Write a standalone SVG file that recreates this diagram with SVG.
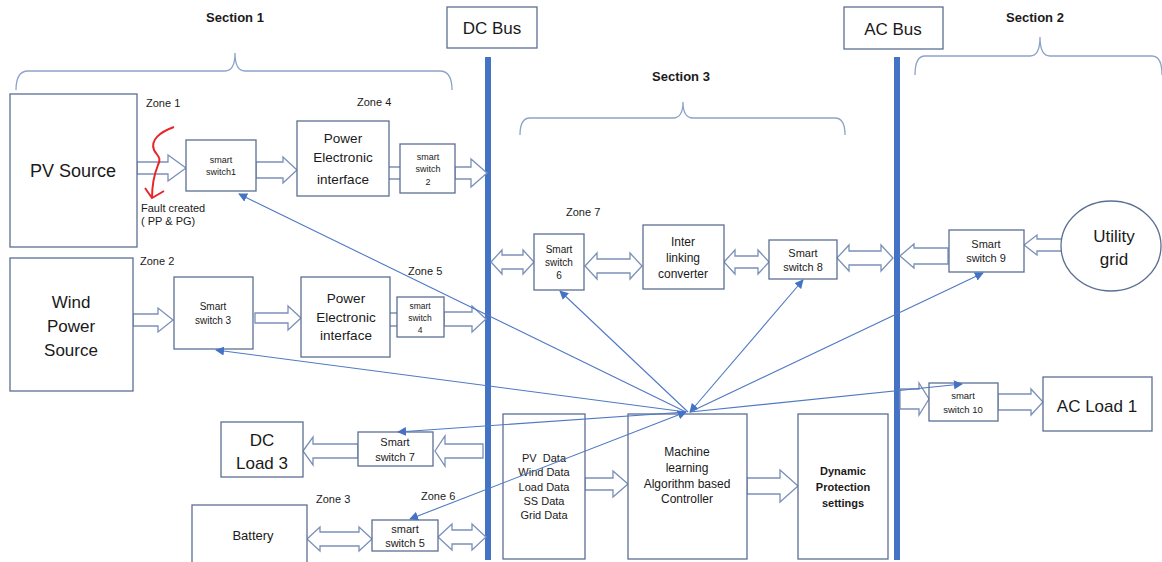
<svg xmlns="http://www.w3.org/2000/svg" width="1162" height="562" viewBox="0 0 1162 562">
<defs>
<style>
.box{fill:#fff;stroke:#5b6f92;stroke-width:1.3}
.blk{fill:#fff;stroke:#7b90b8;stroke-width:1.3}
.bus{fill:#4472c4}
.brace{fill:none;stroke:#8ea2c9;stroke-width:1.3}
.sig{fill:none;stroke:#4f79c4;stroke-width:1.1}
.t{font-family:"Liberation Sans",Arial,sans-serif;fill:#1a1a1a;text-anchor:middle}
.z{font-family:"Liberation Sans",Arial,sans-serif;fill:#1a1a1a;font-size:11px}
.sec{font-family:"Liberation Sans",Arial,sans-serif;font-weight:bold;font-size:13px;fill:#1a1a1a;text-anchor:middle}
</style>
<marker id="ah" viewBox="0 0 10 10" refX="9" refY="5" markerWidth="9" markerHeight="9" markerUnits="userSpaceOnUse" orient="auto-start-reverse">
<path d="M0,0 L10,5 L0,10 z" fill="#4472c4"/>
</marker>
</defs>
<rect width="1162" height="562" fill="#fff"/>

<!-- section labels and braces -->
<g id="sections">
<text class="sec" x="235" y="22">Section 1</text>
<text class="sec" x="681" y="81">Section 3</text>
<text class="sec" x="1035" y="22">Section 2</text>
<path class="brace" d="M16,90 Q16,71 28,71 L225,71 Q235,71 235,53 Q235,71 245,71 L440,71 Q452,71 452,90"/>
<path class="brace" d="M520,135 Q520,118 530,118 L673,118 Q683,118 683,102 Q683,118 693,118 L835,118 Q845,118 845,135"/>
<path class="brace" d="M915,75 Q915,56 925,56 L1030,56 Q1040,56 1040,37 Q1040,56 1050,56 L1152,56 Q1162,56 1162,75"/>
</g>

<!-- buses -->
<g id="dcbus">
<rect class="box" x="447" y="7" width="90" height="41"/>
<text class="t" x="492" y="34" font-size="17">DC Bus</text>
<rect class="bus" x="485" y="57" width="6" height="503"/>
</g>
<g id="acbus">
<rect class="box" x="844" y="7" width="99" height="42"/>
<text class="t" x="893" y="35" font-size="17">AC Bus</text>
<rect class="bus" x="894" y="57" width="6" height="503"/>
</g>

<!-- zone labels -->
<g id="zones">
<text class="z" x="146" y="107">Zone 1</text>
<text class="z" x="357" y="106">Zone 4</text>
<text class="z" x="140" y="265">Zone 2</text>
<text class="z" x="408" y="275">Zone 5</text>
<text class="z" x="566" y="216">Zone 7</text>
<text class="z" x="316" y="503">Zone 3</text>
<text class="z" x="421" y="500">Zone 6</text>
</g>

<!-- block arrows -->
<g id="power-flows">
<polygon class="blk" points="137,162 168,162 168,155 186,168 168,181 168,174 137,174"/>
<polygon class="blk" points="256,162 283,162 283,157 297,170 283,183 283,178 256,178"/>
<path class="blk" d="M389,167 H400 M389,179 H400"/>
<polygon class="blk" points="455,167 471,167 471,159 487,173 471,187 471,179 455,179"/>
<polygon class="blk" points="133,314 158,314 158,308 173,320 158,332 158,326 133,326"/>
<polygon class="blk" points="255,313 288,313 288,306 301,318 288,330 288,323 255,323"/>
<path class="blk" d="M390,313 H397 M390,326 H397"/>
<polygon class="blk" points="444,312 472,312 472,306 486,319 472,332 472,326 444,326"/>
<polygon class="blk" points="491,262 502,250 502,255 523,255 523,250 534,262 523,274 523,269 502,269 502,274"/>
<polygon class="blk" points="585,266 597,253 597,259 630,259 630,253 642,266 630,279 630,273 597,273 597,279"/>
<polygon class="blk" points="724,262 735,250 735,256 758,256 758,250 769,262 758,274 758,268 735,268 735,274"/>
<polygon class="blk" points="837,258 849,245 849,251 881,251 881,245 893,258 881,271 881,265 849,265 849,271"/>
<polygon class="blk" points="900,256 914,244 914,248 948,248 948,264 914,264 914,268"/>
<polygon class="blk" points="1024,245 1037,235 1037,239 1062,239 1062,251 1037,251 1037,255"/>
<polygon class="blk" points="900,389 919,389 919,383 929,399 919,415 919,409 900,409"/>
<polygon class="blk" points="998,394 1031,394 1031,389 1043,402 1031,415 1031,410 998,410"/>
<polygon class="blk" points="303,451 313,437 313,444 358,444 358,458 313,458 313,465"/>
<polygon class="blk" points="435,451 445,436 445,444 483,444 483,458 445,458 445,466"/>
<polygon class="blk" points="307,539 320,527 320,532 359,532 359,527 372,539 359,551 359,546 320,546 320,551"/>
<polygon class="blk" points="438,537 452,524 452,530 472,530 472,524 486,537 472,550 472,544 452,544 452,550"/>
<polygon class="blk" points="585,478 613,478 613,471 628,484 613,497 613,490 585,490"/>
<polygon class="blk" points="747,478 780,478 780,470 798,486 780,502 780,494 747,494"/>
</g>

<!-- nodes -->
<g id="pv-source">
<rect class="box" x="10" y="94" width="127" height="153"/>
<text class="t" x="73" y="177" font-size="18">PV Source</text>
</g>
<g id="smart-switch-1">
<rect class="box" x="186" y="140" width="70" height="51"/>
<text class="t" x="221" y="163" font-size="9">smart</text>
<text class="t" x="221" y="175" font-size="9">switch1</text>
</g>
<g id="pe-interface-1">
<rect class="box" x="297" y="121" width="92" height="75"/>
<text class="t" x="343" y="143" font-size="13.5">Power</text>
<text class="t" x="343" y="162" font-size="13.5">Electronic</text>
<text class="t" x="343" y="184" font-size="13.5">interface</text>
</g>
<g id="smart-switch-2">
<rect class="box" x="400" y="144" width="55" height="49"/>
<text class="t" x="428" y="160" font-size="9">smart</text>
<text class="t" x="428" y="172" font-size="9">switch</text>
<text class="t" x="428" y="185" font-size="9">2</text>
</g>
<g id="fault">
<path d="M174,127 C160,132 150,140 154,150 C157,156 162,157 158,165 C154,175 152,186 152,198" fill="none" stroke="#e8262a" stroke-width="2"/>
<path d="M145,188 L152,198 L164,191" fill="none" stroke="#e8262a" stroke-width="2"/>
<text class="z" x="141" y="212" font-size="10">Fault created</text>
<text class="z" x="141" y="225" font-size="10">( PP &amp; PG)</text>
</g>
<g id="wind-source">
<rect class="box" x="10" y="258" width="123" height="133"/>
<text class="t" x="71" y="308" font-size="17">Wind</text>
<text class="t" x="71" y="332" font-size="17">Power</text>
<text class="t" x="71" y="356" font-size="17">Source</text>
</g>
<g id="smart-switch-3">
<rect class="box" x="174" y="277" width="79" height="72"/>
<text class="t" x="213" y="310" font-size="10">Smart</text>
<text class="t" x="213" y="324" font-size="10">switch 3</text>
</g>
<g id="pe-interface-2">
<rect class="box" x="301" y="277" width="89" height="80"/>
<text class="t" x="346" y="303" font-size="13.5">Power</text>
<text class="t" x="346" y="322" font-size="13.5">Electronic</text>
<text class="t" x="346" y="340" font-size="13.5">interface</text>
</g>
<g id="smart-switch-4">
<rect class="box" x="397" y="297" width="47" height="40"/>
<text class="t" x="420" y="309" font-size="8.5">smart</text>
<text class="t" x="420" y="321" font-size="8.5">switch</text>
<text class="t" x="420" y="333" font-size="8.5">4</text>
</g>
<g id="smart-switch-6">
<rect class="box" x="534" y="234" width="50" height="56"/>
<text class="t" x="559" y="253" font-size="10">Smart</text>
<text class="t" x="559" y="266" font-size="10">switch</text>
<text class="t" x="559" y="279" font-size="10">6</text>
</g>
<g id="interlinking-converter">
<rect class="box" x="643" y="225" width="81" height="64"/>
<text class="t" x="683" y="246" font-size="12">Inter</text>
<text class="t" x="683" y="262" font-size="12">linking</text>
<text class="t" x="683" y="278" font-size="12">converter</text>
</g>
<g id="smart-switch-8">
<rect class="box" x="769" y="240" width="68" height="39"/>
<text class="t" x="803" y="257" font-size="11">Smart</text>
<text class="t" x="803" y="271" font-size="11">switch 8</text>
</g>
<g id="smart-switch-9">
<rect class="box" x="949" y="230" width="75" height="42"/>
<text class="t" x="986" y="248" font-size="11">Smart</text>
<text class="t" x="986" y="262" font-size="11">switch 9</text>
</g>
<g id="utility-grid">
<ellipse class="box" cx="1111" cy="246" rx="50" ry="45"/>
<text class="t" x="1114" y="242" font-size="17">Utility</text>
<text class="t" x="1114" y="265" font-size="17">grid</text>
</g>
<g id="smart-switch-10">
<rect class="box" x="929" y="383" width="69" height="38"/>
<text class="t" x="963" y="399" font-size="9.5">smart</text>
<text class="t" x="963" y="413" font-size="9.5">switch 10</text>
</g>
<g id="ac-load-1">
<rect class="box" x="1043" y="377" width="109" height="54"/>
<text class="t" x="1097" y="412" font-size="17">AC Load 1</text>
</g>
<g id="dc-load-3">
<rect class="box" x="221" y="422" width="82" height="55"/>
<text class="t" x="262" y="446" font-size="17">DC</text>
<text class="t" x="262" y="469" font-size="17">Load 3</text>
</g>
<g id="smart-switch-7">
<rect class="box" x="358" y="432" width="75" height="34"/>
<text class="t" x="395" y="446" font-size="11">Smart</text>
<text class="t" x="395" y="461" font-size="11">switch 7</text>
</g>
<g id="battery">
<rect class="box" x="192" y="505" width="115" height="60"/>
<text class="t" x="253" y="540" font-size="13">Battery</text>
</g>
<g id="smart-switch-5">
<rect class="box" x="372" y="520" width="66" height="31"/>
<text class="t" x="405" y="533" font-size="11">smart</text>
<text class="t" x="405" y="547" font-size="11">switch 5</text>
</g>
<g id="data">
<rect class="box" x="503" y="414" width="82" height="145"/>
<text class="t" x="544" y="462" font-size="11" xml:space="preserve">PV  Data</text>
<text class="t" x="544" y="476" font-size="11">Wind Data</text>
<text class="t" x="544" y="491" font-size="11">Load Data</text>
<text class="t" x="544" y="505" font-size="11">SS Data</text>
<text class="t" x="544" y="519" font-size="11">Grid Data</text>
</g>
<g id="ml-controller">
<rect class="box" x="628" y="414" width="119" height="145"/>
<text class="t" x="687" y="456" font-size="12">Machine</text>
<text class="t" x="687" y="472" font-size="12">learning</text>
<text class="t" x="687" y="488" font-size="12">Algorithm based</text>
<text class="t" x="687" y="503" font-size="12">Controller</text>
</g>
<g id="dynamic-protection">
<rect class="box" x="798" y="414" width="90" height="145"/>
<text class="t" x="843" y="475" font-size="11" font-weight="bold">Dynamic</text>
<text class="t" x="843" y="491" font-size="11" font-weight="bold">Protection</text>
<text class="t" x="843" y="507" font-size="11" font-weight="bold">settings</text>
</g>

<!-- control signal connectors -->
<g id="signals">
<path class="sig" d="M686,412 L239,194" marker-end="url(#ah)"/>
<path class="sig" d="M686,412 L216,350" marker-end="url(#ah)"/>
<path class="sig" d="M686,412 L398,432" marker-end="url(#ah)"/>
<path class="sig" d="M686,412 L410,519" marker-end="url(#ah)" marker-start="url(#ah)"/>
<path class="sig" d="M688,412 L560,291" marker-end="url(#ah)"/>
<path class="sig" d="M690,412 L803,280" marker-end="url(#ah)" marker-start="url(#ah)"/>
<path class="sig" d="M690,412 L983,273" marker-end="url(#ah)"/>
<path class="sig" d="M690,412 L962,384" marker-end="url(#ah)"/>
</g>
</svg>
